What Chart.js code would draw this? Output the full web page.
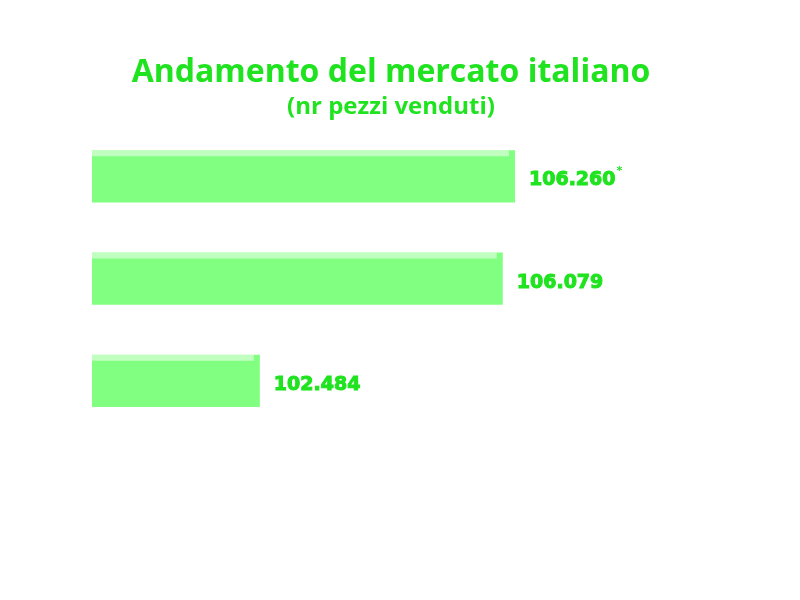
<!DOCTYPE html>
<html>
<head>
<meta charset="utf-8">
<script src="https://cdn.jsdelivr.net/npm/chart.js@4/dist/chart.umd.min.js"></script>
<style>
  html, body { margin: 0; padding: 0; background: #fff; }
  #wrap { width: 800px; height: 600px; position: relative; }
</style>
</head>
<body>
<div id="wrap"><canvas id="c"></canvas></div>
<script>
// data (top to bottom)
var categories = ["Periodo 1", "Periodo 2", "Periodo 3"];
var pezziVenduti = [106260, 106079, 102484];
var notes = ["*", "", ""];

var GREEN = "#1fe31f";

function fmt(n) {
  return String(n).replace(/\B(?=(\d{3})+(?!\d))/g, ".");
}

// light top strip and left edge on every bar
var glossPlugin = {
  id: "gloss",
  afterDatasetsDraw: function (chart) {
    var ctx = chart.ctx;
    chart.getDatasetMeta(0).data.forEach(function (bar) {
      var top = bar.y - bar.height / 2;
      var left = bar.base;
      var right = bar.x;
      ctx.save();
      ctx.fillStyle = "rgba(255,255,255,0.5)";
      ctx.fillRect(left, top, right - left - 6, 6);
      ctx.fillStyle = "rgba(255,255,255,0.3)";
      ctx.fillRect(left, top + 6, 5, bar.height - 14);
      ctx.restore();
    });
  }
};

var labelPlugin = {
  id: "valueLabels",
  afterDatasetsDraw: function (chart) {
    var ctx = chart.ctx;
    ctx.save();
    ctx.fillStyle = GREEN;
    ctx.strokeStyle = GREEN;
    ctx.lineWidth = 1;
    ctx.textBaseline = "middle";
    chart.getDatasetMeta(0).data.forEach(function (bar, i) {
      var txt = fmt(pezziVenduti[i]);
      ctx.font = "bold 19px 'DejaVu Sans'";
      var x = bar.x + 14;
      ctx.fillText(txt, x, bar.y + 4);
      ctx.strokeText(txt, x, bar.y + 4);
      if (notes[i]) {
        var w = ctx.measureText(txt).width;
        ctx.font = "bold 11px 'DejaVu Sans'";
        ctx.fillText(notes[i], x + w + 1, bar.y - 5);
      }
    });
    ctx.restore();
  }
};

new Chart(document.getElementById("c"), {
  type: "bar",
  data: {
    labels: categories,
    datasets: [{
      data: pezziVenduti,
      backgroundColor: "#80ff80",
      borderWidth: 0,
      barPercentage: 0.51,
      categoryPercentage: 1
    }]
  },
  options: {
    indexAxis: "y",
    responsive: true,
    maintainAspectRatio: false,
    animation: false,
    layout: { padding: { left: 92, right: 110, bottom: 168 } },
    plugins: {
      legend: { display: false },
      tooltip: { enabled: false },
      title: {
        display: true,
        text: "Andamento del mercato italiano",
        color: GREEN,
        font: { family: "Open Sans", size: 32, weight: "bold" },
        padding: { top: 54, bottom: 0 }
      },
      subtitle: {
        display: true,
        text: "(nr pezzi venduti)",
        color: GREEN,
        font: { family: "Open Sans", size: 24, weight: "bold" },
        padding: { top: 0, bottom: 4 }
      }
    },
    scales: {
      x: { display: false, min: 100000, max: 108850 },
      y: { display: false }
    }
  },
  plugins: [glossPlugin, labelPlugin]
});
</script>
</body>
</html>
